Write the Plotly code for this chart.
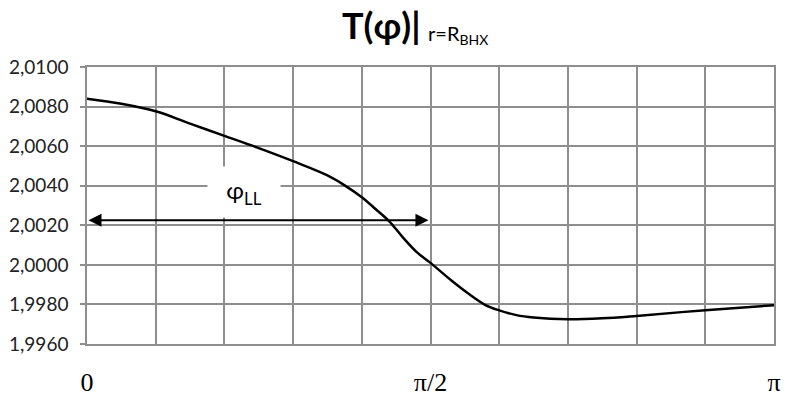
import numpy as np
import plotly.graph_objects as go

# angle as a fraction of pi, temperature
phi_frac = [0.0, 0.05, 0.10, 0.15, 0.20, 0.25, 0.30, 0.35, 0.375, 0.40, 0.42, 0.44,
            0.46, 0.48, 0.50, 0.53, 0.555, 0.58, 0.60, 0.625, 0.65, 0.70, 0.75,
            0.80, 0.90, 1.0]
temp = [2.00840, 2.00814, 2.00776, 2.00714, 2.00652, 2.00590, 2.00524, 2.00452,
        2.00402, 2.00342, 2.00282, 2.00220, 2.00138, 2.00064, 2.00010, 1.99922,
        1.99855, 1.99797, 1.99770, 1.99746, 1.99734, 1.99725, 1.99730, 1.99742,
        1.99771, 1.99796]

x_tick_vals = [0.0, 0.5, 1.0]
x_tick_text = ["0", "π/2", "π"]

arrow_from, arrow_to, arrow_y = 0.0, 0.497, 2.00225
label_x, label_y = 0.228, 2.00370

phi = [np.pi * f for f in phi_frac]
grid = "#8e8e8e"

fig = go.Figure()
fig.add_trace(go.Scatter(x=phi, y=temp, mode="lines",
                         line=dict(color="black", width=2.5, shape="spline", smoothing=1.0),
                         showlegend=False, hoverinfo="skip"))

# double-headed arrow for phi_LL
fig.add_annotation(x=np.pi * arrow_to, y=arrow_y, ax=np.pi * arrow_from, ay=arrow_y,
                   xref="x", yref="y", axref="x", ayref="y", text="",
                   showarrow=True, arrowhead=2, arrowside="end+start",
                   arrowsize=1.3, arrowwidth=2, arrowcolor="black")
fig.add_annotation(x=np.pi * label_x, y=label_y, xref="x", yref="y",
                   text="φ<sub>LL</sub>", showarrow=False, bgcolor="white",
                   width=70, height=48,
                   font=dict(family="Lato", size=24, color="black"))

# title in two pieces: big bold part and small subscript part
fig.add_annotation(x=0.489, y=1.15, xref="paper", yref="paper", xanchor="right",
                   yanchor="middle", text="<b>T(φ)|</b>", showarrow=False,
                   font=dict(family="Lato", size=36, color="black"))
fig.add_annotation(x=0.494, y=1.118, xref="paper", yref="paper", xanchor="left",
                   yanchor="middle", text="r=R<sub>BHX</sub>", showarrow=False,
                   font=dict(family="Lato", size=20, color="black"))

fig.update_xaxes(range=[0, np.pi], tickvals=[np.pi * v for v in x_tick_vals],
                 ticktext=x_tick_text, showgrid=True, gridcolor=grid, gridwidth=1.5,
                 showline=True, linecolor=grid, linewidth=1.5, mirror=True,
                 zeroline=False, ticks="", ticklabelstandoff=14, automargin=False,
                 minor=dict(dtick=np.pi / 10, tick0=0, showgrid=True,
                            gridcolor=grid, gridwidth=1.5),
                 tickfont=dict(family="Liberation Serif", size=26, color="black"))
fig.update_yaxes(range=[1.996, 2.010], dtick=0.002, tick0=1.996, tickformat=".4f",
                 showgrid=True, gridcolor=grid, gridwidth=1.5,
                 showline=True, linecolor=grid, linewidth=1.5, mirror=True,
                 zeroline=False, ticks="outside", ticklen=5, tickcolor=grid,
                 tickwidth=1.5, ticklabelstandoff=8, automargin=False,
                 tickfont=dict(family="Lato", size=19, color="#222222"))

# page body adds an 8px margin, so the figure is 8px smaller each way
fig.update_layout(width=792, height=397, separators=", ",
                  margin=dict(l=79, r=26, t=59, b=61),
                  paper_bgcolor="white", plot_bgcolor="white")

fig.write_html("out.html")
